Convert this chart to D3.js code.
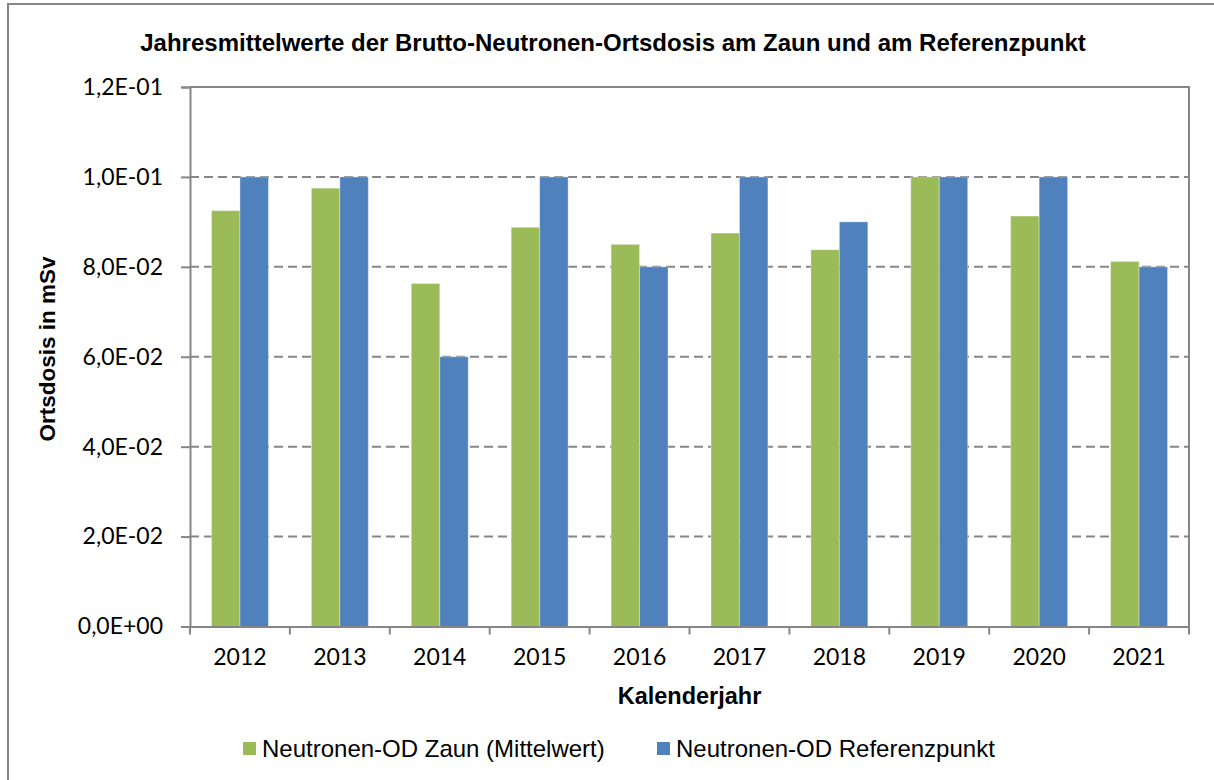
<!DOCTYPE html>
<html>
<head>
<meta charset="utf-8">
<script src="https://cdn.jsdelivr.net/npm/d3@7/dist/d3.min.js"></script>
<style>
  body { margin: 0; background: #fff; }
  svg { display: block; }
</style>
</head>
<body>
<svg width="1214" height="780"></svg>
<script>
// data
var years = ["2012", "2013", "2014", "2015", "2016", "2017", "2018", "2019", "2020", "2021"];
var zaun = [0.0925, 0.0975, 0.0763, 0.0888, 0.0850, 0.0875, 0.0838, 0.1000, 0.0913, 0.0812];
var referenz = [0.100, 0.100, 0.060, 0.100, 0.080, 0.100, 0.090, 0.100, 0.100, 0.080];
var seriesNames = ["Neutronen-OD Zaun (Mittelwert)", "Neutronen-OD Referenzpunkt"];
var yTicks = [0, 0.02, 0.04, 0.06, 0.08, 0.10, 0.12];

var colors = ["#9bbb59", "#4f81bd"];
var gray = "#868686";

var svg = d3.select("svg");
var margin = {top: 87, right: 25, bottom: 153.5, left: 190};
var width = 1214 - margin.left - margin.right;
var height = 780 - margin.top - margin.bottom;

// outer chart frame (runs past the picture edge on right/bottom)
svg.append("rect")
  .attr("x", 8).attr("y", 4)
  .attr("width", 1300).attr("height", 900)
  .attr("fill", "none")
  .attr("stroke", gray)
  .attr("stroke-width", 2);

svg.append("text")
  .attr("x", 613)
  .attr("y", 51)
  .attr("text-anchor", "middle")
  .attr("font-family", "Liberation Sans, Arial, sans-serif")
  .attr("font-weight", "bold")
  .attr("font-size", 24)
  .text("Jahresmittelwerte der Brutto-Neutronen-Ortsdosis am Zaun und am Referenzpunkt");

var g = svg.append("g").attr("transform", "translate(" + margin.left + "," + margin.top + ")");

var x0 = d3.scaleBand()
  .domain(years)
  .range([0, width])
  .paddingInner(0.43)
  .paddingOuter(0.215);

var x1 = d3.scaleBand()
  .domain([0, 1])
  .range([0, x0.bandwidth()]);

var y = d3.scaleLinear()
  .domain([0, 0.12])
  .range([height, 0]);

// dashed gridlines
g.append("g")
  .selectAll("line")
  .data(yTicks.filter(function(d) { return d > 0 && d < 0.12; }))
  .enter().append("line")
    .attr("x1", 0)
    .attr("x2", width)
    .attr("y1", function(d) { return y(d); })
    .attr("y2", function(d) { return y(d); })
    .attr("stroke", gray)
    .attr("stroke-width", 2)
    .attr("stroke-dasharray", "9,5");

// plot area border (top + right)
g.append("path")
  .attr("d", "M0," + y(0.12) + "H" + width + "V" + height)
  .attr("fill", "none")
  .attr("stroke", gray)
  .attr("stroke-width", 2);

var rows = years.map(function(yr, i) { return {year: yr, values: [zaun[i], referenz[i]]}; });

g.append("g")
  .selectAll("g")
  .data(rows)
  .enter().append("g")
    .attr("transform", function(d) { return "translate(" + x0(d.year) + ",0)"; })
  .selectAll("rect")
  .data(function(d) { return d.values.map(function(v, k) { return {k: k, value: v}; }); })
  .enter().append("rect")
    .attr("x", function(d) { return x1(d.k); })
    .attr("y", function(d) { return y(d.value); })
    .attr("width", x1.bandwidth())
    .attr("height", function(d) { return height - y(d.value); })
    .attr("fill", function(d) { return colors[d.k]; })
    .attr("stroke", "#ffffff")
    .attr("stroke-opacity", 0.35)
    .attr("stroke-width", 1);

// y axis
var yAxis = g.append("g")
  .call(d3.axisLeft(y).tickValues(yTicks).tickSize(9).tickPadding(18)
    .tickFormat(function(d) { return d3.format(".1e")(d).replace(".", ",").replace(/e([+-])(\d)$/, "E$10$2"); }));
yAxis.select(".domain").attr("stroke", gray).attr("stroke-width", 2);
yAxis.selectAll(".tick line").attr("stroke", gray).attr("stroke-width", 2);
yAxis.selectAll(".tick text")
  .attr("font-family", "Lato, sans-serif")
  .attr("font-size", 23)
  .attr("fill", "#000");

// x axis: labels centered on bands, ticks at band boundaries
var xAxis = g.append("g")
  .attr("transform", "translate(0," + height + ")")
  .call(d3.axisBottom(x0).tickSize(0).tickPadding(22));
xAxis.select(".domain").attr("stroke", gray).attr("stroke-width", 2);
xAxis.selectAll(".tick text")
  .attr("font-family", "Lato, sans-serif")
  .attr("font-size", 23)
  .attr("fill", "#000");

var step = x0.step();
xAxis.append("g")
  .selectAll("line")
  .data(d3.range(years.length + 1))
  .enter().append("line")
    .attr("x1", function(i) { return i * step; })
    .attr("x2", function(i) { return i * step; })
    .attr("y1", 0)
    .attr("y2", 8)
    .attr("stroke", gray)
    .attr("stroke-width", 2);

// axis titles
svg.append("text")
  .attr("x", margin.left + width / 2)
  .attr("y", 704)
  .attr("text-anchor", "middle")
  .attr("font-family", "Liberation Sans, Arial, sans-serif")
  .attr("font-weight", "bold")
  .attr("font-size", 23.5)
  .text("Kalenderjahr");

svg.append("text")
  .attr("transform", "translate(55,349) rotate(-90)")
  .attr("text-anchor", "middle")
  .attr("font-family", "Liberation Sans, Arial, sans-serif")
  .attr("font-weight", "bold")
  .attr("font-size", 22.5)
  .text("Ortsdosis in mSv");

// legend
var legendX = [243, 657];
var legend = svg.append("g")
  .selectAll("g")
  .data(seriesNames)
  .enter().append("g")
    .attr("transform", function(d, i) { return "translate(" + legendX[i] + ",742)"; });

legend.append("rect")
  .attr("width", 13)
  .attr("height", 13)
  .attr("fill", function(d, i) { return colors[i]; });

legend.append("text")
  .attr("x", 19)
  .attr("y", 15)
  .attr("font-family", "Liberation Sans, Arial, sans-serif")
  .attr("font-size", 24)
  .text(function(d) { return d; });
</script>
</body>
</html>
